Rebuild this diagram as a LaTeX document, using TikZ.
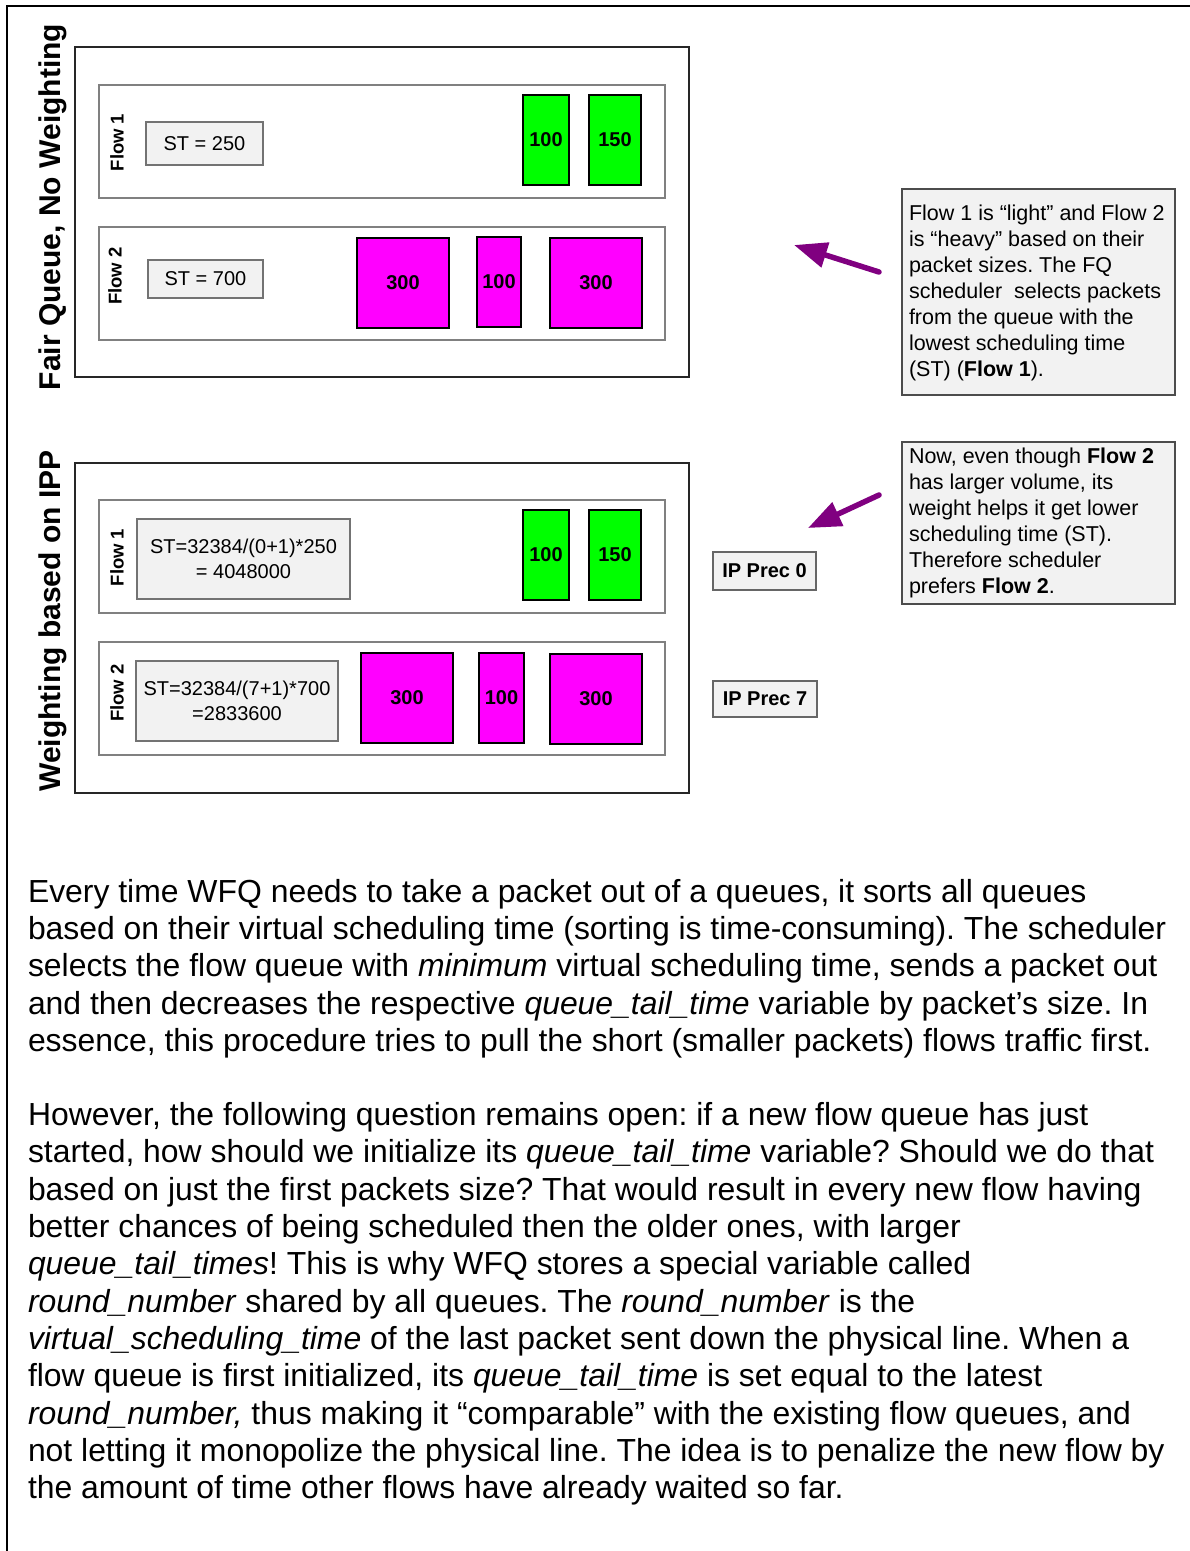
\documentclass[tikz,border=0pt]{standalone}
\usepackage{fontspec}
\setmainfont{Liberation Sans}
\usetikzlibrary{arrows.meta}
\frenchspacing

\definecolor{arrowpurple}{RGB}{128,0,128}
\definecolor{pktgreen}{RGB}{0,255,0}
\definecolor{pktmagenta}{RGB}{255,0,255}
\definecolor{boxgray}{RGB}{242,242,242}

\tikzset{
  every node/.style={inner sep=0pt, outer sep=0pt},
  frameline/.style={draw=black, line width=2.5pt},
  panel/.style={draw=black!85, line width=1.4pt, fill=white},
  lane/.style={draw=black!50, line width=1.4pt, fill=white},
  flowlabel/.style={rotate=90, font=\bfseries\fontsize{18.5}{22}\selectfont},
  sidetitle/.style={rotate=90, font=\bfseries\fontsize{30}{36}\selectfont},
  stbox/.style={draw=black!55, line width=1.3pt, fill=boxgray, align=center,
    font=\fontsize{20}{25}\selectfont},
  pkt/.style={draw=black, line width=1.3pt, font=\bfseries\fontsize{20}{24}\selectfont},
  lightpkt/.style={pkt, fill=pktgreen},
  heavypkt/.style={pkt, fill=pktmagenta},
  precbox/.style={draw=black!60, line width=1.3pt, fill=boxgray,
    font=\bfseries\fontsize{20}{24}\selectfont},
  note/.style={draw=black!70, line width=1.3pt, fill=boxgray},
  notetext/.style={align=left, font=\fontsize{21.5}{26}\selectfont},
  pointer/.style={draw=arrowpurple, line width=5.5pt, line cap=round,
    -{Triangle[length=33pt,width=25pt]}},
  bodytext/.style={align=left, font=\fontsize{31.9}{37.3}\selectfont},
}

\begin{document}
\begin{tikzpicture}[x=1pt, y=-1pt]
\useasboundingbox (0,0) rectangle (1190,1551);

% page frame (top and left edges)
\draw[frameline] (1190,6) -- (7,6) -- (7,1551);

% ---------- Fair queue, no weighting ----------
\node[sidetitle] (titleA) at (53,207) {Fair Queue, No Weighting};
\node[panel, minimum width=614, minimum height=330] (panelA) at (382,212) {};
\node[lane, minimum width=566, minimum height=113] (laneA1) at (382,141.5) {};
\node[lane, minimum width=566, minimum height=113] (laneA2) at (382,283.5) {};
\node[flowlabel] (flowA1) at (117,142.5) {Flow 1};
\node[flowlabel] (flowA2) at (115,276) {Flow 2};
\node[stbox, minimum width=117, minimum height=43] (stA1) at (204.5,143.5) {ST = 250};
\node[stbox, minimum width=115, minimum height=38] (stA2) at (205.5,279) {ST = 700};
\node[lightpkt, minimum width=46, minimum height=90] (pA1a) at (546,140) {100};
\node[lightpkt, minimum width=52, minimum height=90] (pA1b) at (615,140) {150};
\node[heavypkt, minimum width=92, minimum height=90] (pA2a) at (403,283) {300};
\node[heavypkt, minimum width=44, minimum height=90] (pA2b) at (499,282) {100};
\node[heavypkt, minimum width=92, minimum height=90] (pA2c) at (596,283) {300};

% ---------- Weighting based on IP precedence ----------
\node[sidetitle] (titleB) at (53,621) {Weighting based on IPP};
\node[panel, minimum width=614, minimum height=330] (panelB) at (382,628) {};
\node[lane, minimum width=566, minimum height=113] (laneB1) at (382,556.5) {};
\node[lane, minimum width=566, minimum height=113] (laneB2) at (382,698.5) {};
\node[flowlabel] (flowB1) at (117,557.5) {Flow 1};
\node[flowlabel] (flowB2) at (117,693) {Flow 2};
\node[stbox, minimum width=213, minimum height=80] (stB1) at (243.5,559)
  {ST=32384/(0+1)*250\\= 4048000};
\node[stbox, minimum width=202, minimum height=80] (stB2) at (237,701)
  {ST=32384/(7+1)*700\\=2833600};
\node[lightpkt, minimum width=46, minimum height=90] (pB1a) at (546,555) {100};
\node[lightpkt, minimum width=52, minimum height=90] (pB1b) at (615,555) {150};
\node[heavypkt, minimum width=92, minimum height=90] (pB2a) at (407,698) {300};
\node[heavypkt, minimum width=45, minimum height=90] (pB2b) at (501.5,698) {100};
\node[heavypkt, minimum width=92, minimum height=90] (pB2c) at (596,699) {300};
\node[precbox, minimum width=103, minimum height=38] (precA) at (764.5,571) {IP Prec 0};
\node[precbox, minimum width=104, minimum height=36] (precB) at (765,699) {IP Prec 7};

% ---------- explanatory notes ----------
\node[note, minimum width=273, minimum height=206] (noteA) at (1038.5,292) {};
\node[notetext, anchor=west] (noteAtext) at (909,292.5) {%
Flow 1 is “light” and Flow 2\\
is “heavy” based on their\\
packet sizes. The FQ\\
scheduler~ selects packets\\
from the queue with the\\
lowest scheduling time\\
(ST) (\textbf{Flow 1}).};

\node[note, minimum width=273, minimum height=162] (noteB) at (1038.5,523) {};
\node[notetext, anchor=west] (noteBtext) at (909,523) {%
Now, even though \textbf{Flow 2}\\
has larger volume, its\\
weight helps it get lower\\
scheduling time (ST).\\
Therefore scheduler\\
prefers \textbf{Flow 2}.};

\coordinate (arrAtail) at (879,272);
\coordinate (arrAtip) at (794,245);
\draw[pointer] (arrAtail) -- (arrAtip);
\coordinate (arrBtail) at (879,495);
\coordinate (arrBtip) at (808,528);
\draw[pointer] (arrBtail) -- (arrBtip);

% ---------- body text ----------
\node[bodytext, anchor=north west] (paraA) at (28,879) {%
Every time WFQ needs to take a packet out of a queues, it sorts all queues\\
based on their virtual scheduling time (sorting is time-consuming). The scheduler\\
selects the flow queue with \textit{minimum} virtual scheduling time, sends a packet out\\
and then decreases the respective \textit{queue\_tail\_time} variable by packet’s size. In\\
essence, this procedure tries to pull the short (smaller packets) flows traffic first.};

\node[bodytext, anchor=north west] (paraB) at (28,1102.5) {%
However, the following question remains open: if a new flow queue has just\\
started, how should we initialize its \textit{queue\_tail\_time} variable? Should we do that\\
based on just the first packets size? That would result in every new flow having\\
better chances of being scheduled then the older ones, with larger\\
\textit{queue\_tail\_times}! This is why WFQ stores a special variable called\\
\textit{round\_number} shared by all queues. The \textit{round\_number} is the\\
\textit{virtual\_scheduling\_time} of the last packet sent down the physical line. When a\\
flow queue is first initialized, its \textit{queue\_tail\_time} is set equal to the latest\\
\textit{round\_number,} thus making it “comparable” with the existing flow queues, and\\
not letting it monopolize the physical line. The idea is to penalize the new flow by\\
the amount of time other flows have already waited so far.};
\end{tikzpicture}
\end{document}
